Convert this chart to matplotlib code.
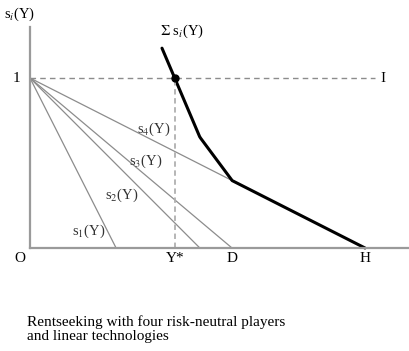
import matplotlib
matplotlib.use("Agg")
import matplotlib.pyplot as plt
import numpy as np

plt.rcParams['font.family'] = ['Liberation Serif', 'DejaVu Serif']
plt.rcParams['mathtext.fontset'] = 'stix'

# x-intercepts of the four linear supply curves s_i(Y) = 1 - Y/a_i
INTERCEPTS = [0.257, 0.507, 0.603, 1.0]
CURVE_LABELS = ["s$_1$(Y)", "s$_2$(Y)", "s$_3$(Y)", "s$_4$(Y)"]
LABEL_POS = [(0.125, 0.10), (0.225, 0.31), (0.295, 0.51), (0.32, 0.70)]
SUM_START = 0.394          # where the aggregate curve is drawn from
AXIS_TICKS = {"O": 0.0, "Y*": 0.432, "D": 0.603, "H": 1.0}
CAPTION = "Rentseeking with four risk-neutral players\nand linear technologies"

GREY = "#8c8c8c"


def s(Y, a):
    return np.clip(1 - Y / a, 0, None)


fig = plt.figure(figsize=(4.10, 3.51), dpi=100)
ax = fig.add_axes([0, 0, 1, 1])
ax.set_xlim(-30 / 335, 380 / 335)
ax.set_ylim(-103 / 170, 248 / 170)

for sp in ["top", "right"]:
    ax.spines[sp].set_visible(False)
ax.spines["left"].set_position(("data", 0))
ax.spines["bottom"].set_position(("data", 0))
ax.spines["left"].set_bounds(0, 1.30)
ax.spines["bottom"].set_bounds(0, 1.14)
for sp in ["left", "bottom"]:
    ax.spines[sp].set_color("#9a9a9a")
    ax.spines[sp].set_linewidth(1.6)
ax.set_xticks([])
ax.set_yticks([])

# individual curves
for a, lab, (lx, ly) in zip(INTERCEPTS, CURVE_LABELS, LABEL_POS):
    Y = np.array([0, a])
    ax.plot(Y, s(Y, a), color=GREY, lw=0.9)
    ax.text(lx, ly, lab, fontsize=10.5, color="#333333", ha="left", va="center")

# aggregate curve
Y = np.linspace(SUM_START, INTERCEPTS[-1], 400)
total = sum(s(Y, a) for a in INTERCEPTS)
ax.plot(Y, total, color="black", lw=2.2, solid_capstyle="round")
ax.text(SUM_START - 0.005, total[0] + 0.05, r"$\Sigma$ s$_i$(Y)", fontsize=10.5,
        ha="left", va="bottom")

# level 1 and Y*
ystar = AXIS_TICKS["Y*"]
ax.plot([0, 1.03], [1, 1], color=GREY, lw=1.0, ls=(0, (4, 3)))
ax.plot([ystar, ystar], [0, 1], color="#b0b0b0", lw=1.3, ls=(0, (3, 2)))
ax.plot([ystar], [1], "o", color="black", ms=5)
ax.text(-0.03, 1, "1", fontsize=11, ha="right", va="center")
ax.text(1.055, 1, "I", fontsize=11, ha="center", va="center")
ax.text(-0.03, 1.375, "s$_i$(Y)", fontsize=10.5, ha="center", va="center")

for lab, x in AXIS_TICKS.items():
    ax.text(x - (0.03 if lab == "O" else 0), -0.06, lab, fontsize=11,
            ha="center", va="center")

fig.text(27 / 410, 1 - 329 / 351, CAPTION, fontsize=11, ha="left", va="center",
         linespacing=1.1)

fig.savefig("out.png", dpi=100)
